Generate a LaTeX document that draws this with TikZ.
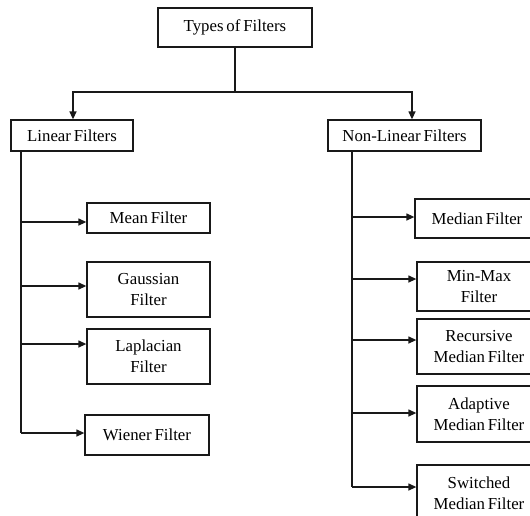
\documentclass[tikz,border=0pt]{standalone}
\usepackage{fontspec}
\setmainfont{Liberation Serif}
\usetikzlibrary{arrows.meta}
\newcommand\myboxfont{\fontsize{16.8}{21}\selectfont\spaceskip=0.17em plus 0.05em\relax}
\begin{document}
\begin{tikzpicture}[x=1pt,y=-1pt,
  box/.style={draw=black!90,line width=1.3pt,rectangle,inner sep=0pt,align=center,
    font=\myboxfont,text=black},
  ln/.style={draw=black!90,line width=1.3pt},
  arr/.style={ln,-{Triangle[length=8pt,width=7pt]}}]
\useasboundingbox (0,0) rectangle (530,515);
\clip (0,0) rectangle (530,515);
\fill[white] (0,0) rectangle (530,515);
% top
\node[box,minimum width=154pt,minimum height=39pt] (top) at (235,27.5) {Types of Filters};
\node[box,minimum width=122pt,minimum height=31pt] (lin) at (72,135.5) {Linear Filters};
\node[box,minimum width=153pt,minimum height=31pt] (nl) at (404.5,135.5) {Non-Linear Filters};
\coordinate (j) at (235,92);
\draw[ln] (top.south) -- (j);
\draw[arr] (j) -| ([xshift=1pt]lin.north);
\draw[arr] (j) -| ([xshift=7.5pt]nl.north);
% linear children
\node[box,minimum width=123pt,minimum height=30pt] (mean) at (148.5,218) {Mean Filter};
\node[box,minimum width=123pt,minimum height=55pt] (gauss) at (148.5,289.5) {Gaussian\\Filter};
\node[box,minimum width=123pt,minimum height=55pt] (lap) at (148.5,356.5) {Laplacian\\Filter};
\node[box,minimum width=124pt,minimum height=40pt] (wien) at (147,435) {Wiener Filter};
\coordinate (l1) at (21,222);
\coordinate (l2) at (21,286);
\coordinate (l3) at (21,344);
\coordinate (l4) at (21,433);
\draw[ln] (l1 |- lin.south) -- (l4);
\draw[arr] (l1) -- (l1 -| mean.west);
\draw[arr] (l2) -- (l2 -| gauss.west);
\draw[arr] (l3) -- (l3 -| lap.west);
\draw[arr] (l4) -- (l4 -| wien.west);
% non-linear children
\node[box,minimum width=124pt,minimum height=39pt] (med) at (477,218.5) {Median Filter};
\node[box,minimum width=124pt,minimum height=49pt] (mm) at (479,286.5) {Min-Max\\Filter};
\node[box,minimum width=124pt,minimum height=55pt] (rec) at (479,346.5) {Recursive\\Median Filter};
\node[box,minimum width=124pt,minimum height=56pt] (ada) at (479,414) {Adaptive\\Median Filter};
\node[box,minimum width=124pt,minimum height=56pt] (sw) at (479,493) {Switched\\Median Filter};
\coordinate (r1) at (352,217);
\coordinate (r2) at (352,279);
\coordinate (r3) at (352,340);
\coordinate (r4) at (352,413);
\coordinate (r5) at (352,487);
\draw[ln] (r1 |- nl.south) -- (r5);
\draw[arr] (r1) -- (r1 -| med.west);
\draw[arr] (r2) -- (r2 -| mm.west);
\draw[arr] (r3) -- (r3 -| rec.west);
\draw[arr] (r4) -- (r4 -| ada.west);
\draw[arr] (r5) -- (r5 -| sw.west);
\end{tikzpicture}
\end{document}
